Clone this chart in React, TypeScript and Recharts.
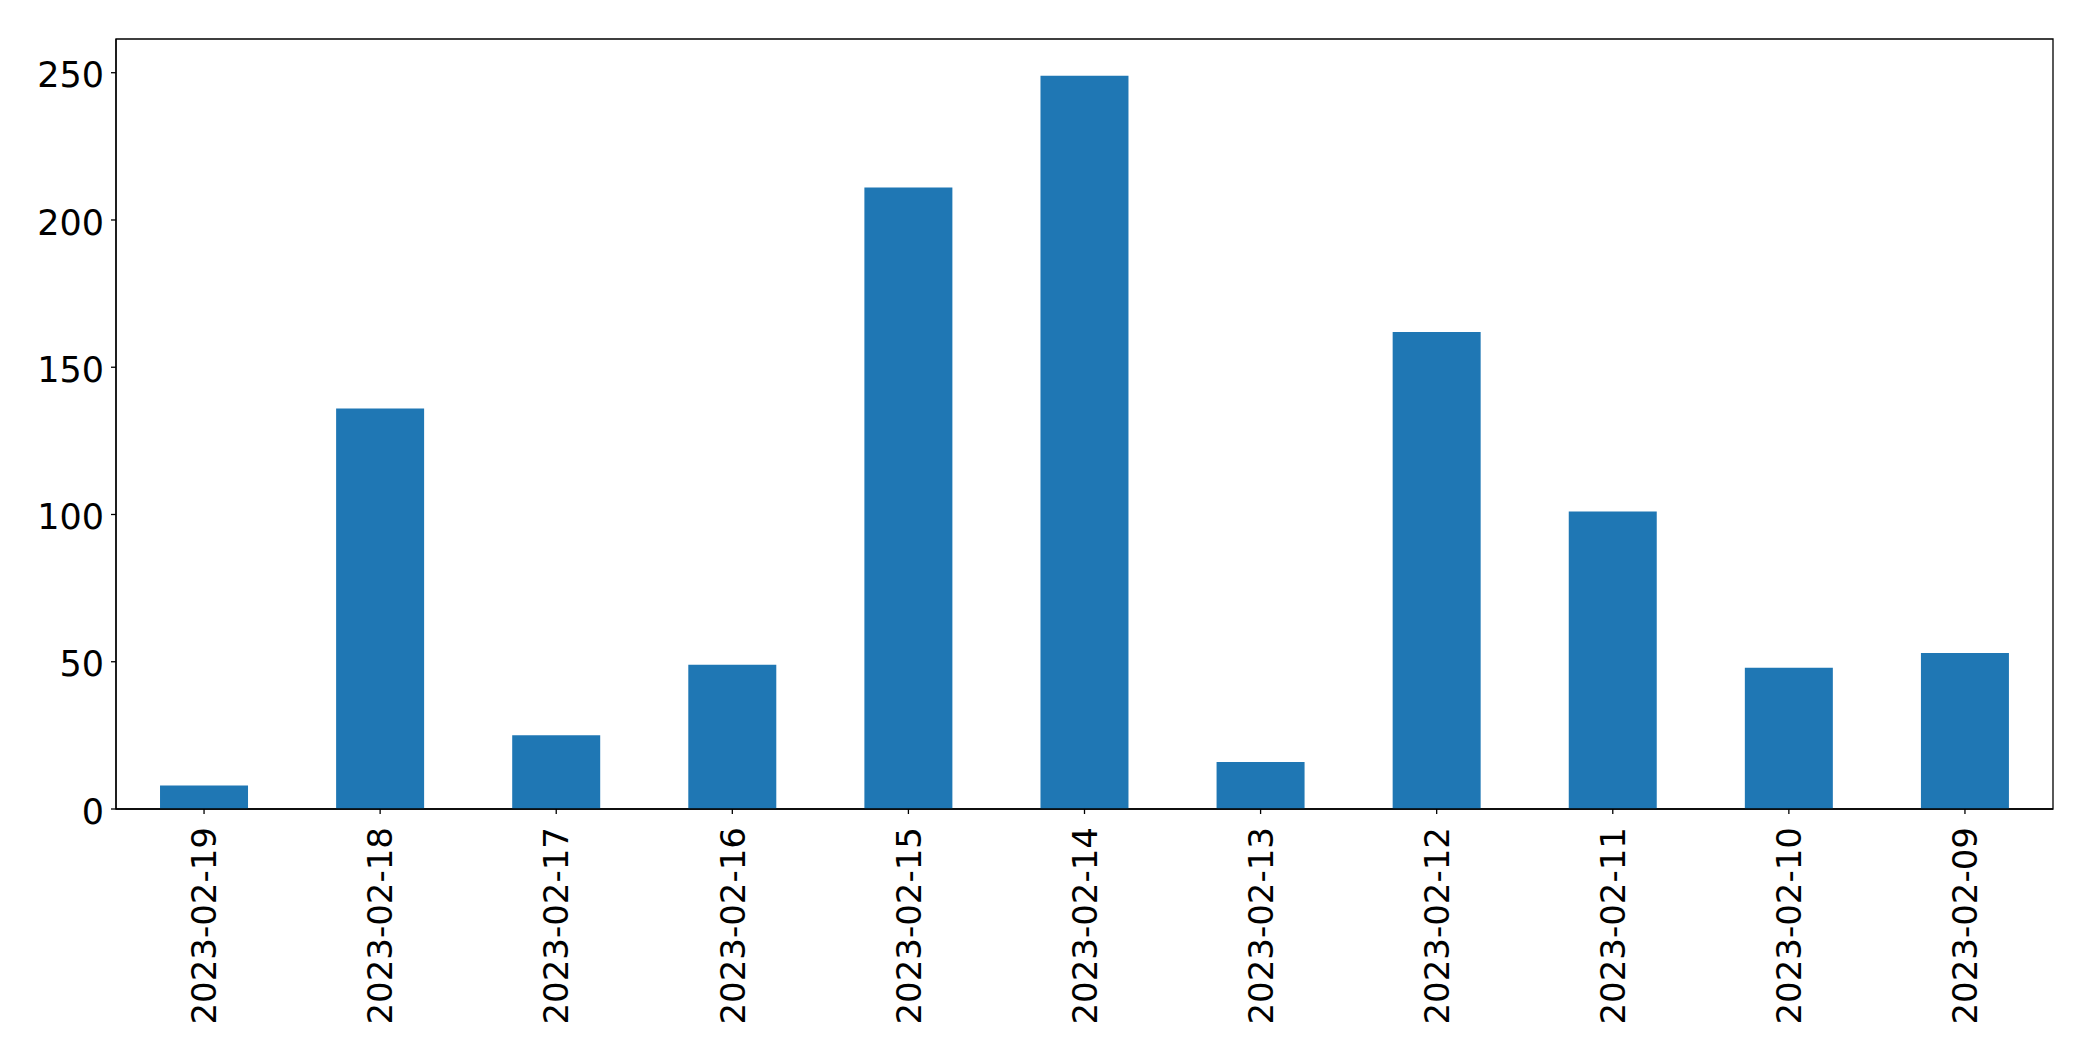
import { BarChart, Bar, XAxis, YAxis, ReferenceArea } from "recharts";

const dates = [
  "2023-02-19", "2023-02-18", "2023-02-17", "2023-02-16", "2023-02-15", "2023-02-14",
  "2023-02-13", "2023-02-12", "2023-02-11", "2023-02-10", "2023-02-09",
];
const counts = [8, 136, 25, 49, 211, 249, 16, 162, 101, 48, 53];
const yTicks = [0, 50, 100, 150, 200, 250];
const yMax = 261.45;

const FONT = "'DejaVu Sans', sans-serif";

function DateTick(props: any) {
  const { x, y, payload } = props;
  return (
    <g transform={`translate(${x},${y})`}>
      <text
        x={0}
        y={0}
        dy="0.36em"
        textAnchor="end"
        transform="rotate(-90)"
        fontFamily={FONT}
        fontSize={34}
        fill="#000"
      >
        {payload.value}
      </text>
    </g>
  );
}

function CountTick(props: any) {
  const { x, y, payload } = props;
  return (
    <text
      x={x}
      y={y + 2}
      dy="0.36em"
      textAnchor="end"
      fontFamily={FONT}
      fontSize={35}
      fill="#000"
    >
      {payload.value}
    </text>
  );
}

export default function App() {
  const data = dates.map((d, i) => ({ date: d, count: counts[i] }));
  return (
    <div style={{ position: "absolute", left: 0, top: 0, background: "#fff" }}>
      <BarChart
        width={2093}
        height={1061}
        data={data}
        margin={{ top: 39, right: 40, bottom: 0, left: 0 }}
        barCategoryGap="25%"
      >
        <XAxis
          dataKey="date"
          height={252}
          interval={0}
          tick={<DateTick />}
          tickSize={5}
          tickMargin={13}
          stroke="#000"
          strokeWidth={1.3}
          tickLine={{ stroke: "#000", strokeWidth: 1.3 }}
        />
        <YAxis
          width={116}
          domain={[0, yMax]}
          ticks={yTicks}
          tickSize={5}
          tickMargin={7}
          stroke="#000"
          strokeWidth={1.3}
          tick={<CountTick />}
          tickLine={{ stroke: "#000", strokeWidth: 1.3 }}
        />
        <Bar dataKey="count" fill="#1f77b4" isAnimationActive={false} />
        <ReferenceArea
          x1={dates[0]}
          x2={dates[dates.length - 1]}
          y1={0}
          y2={yMax}
          fill="none"
          fillOpacity={0}
          stroke="#000"
          strokeWidth={1.3}
          ifOverflow="visible"
        />
      </BarChart>
    </div>
  );
}
